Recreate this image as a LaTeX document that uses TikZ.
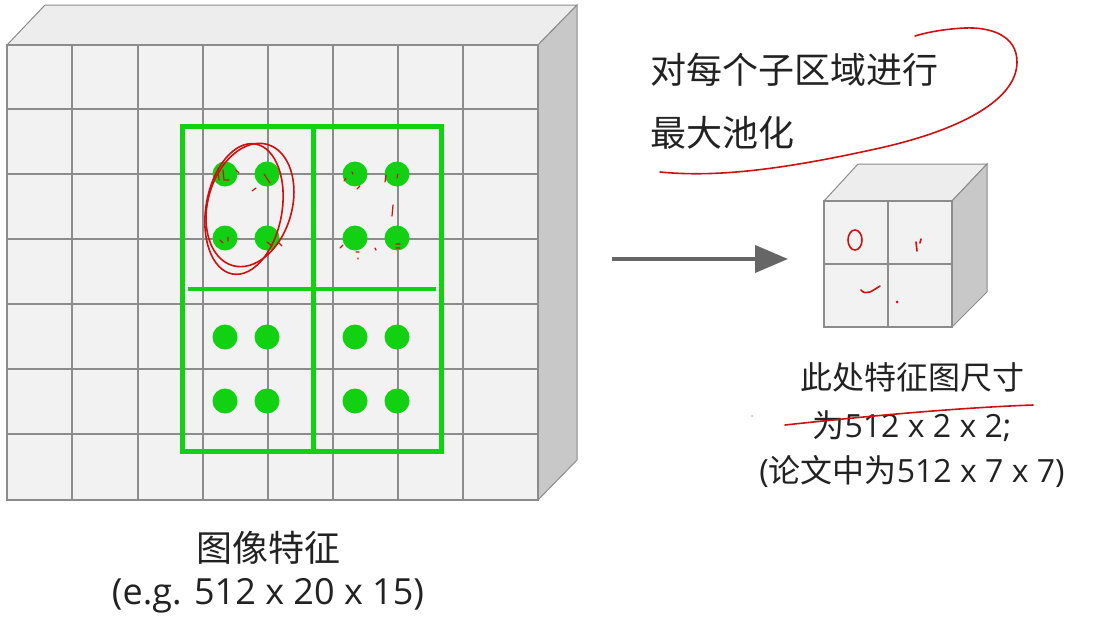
\documentclass[tikz,border=0pt]{standalone}
\usepackage{fontspec}
\setmainfont{Open Sans}
\newfontfamily\cjk{Noto Sans CJK SC}
\usetikzlibrary{arrows.meta}
\definecolor{facegray}{HTML}{F2F2F2}
\definecolor{topgray}{HTML}{EDEDED}
\definecolor{sidegray}{HTML}{C8C8C8}
\definecolor{edgegray}{HTML}{8C8C8C}
\definecolor{poolgreen}{HTML}{12D012}
\definecolor{penred}{HTML}{D01010}
\definecolor{inkgray}{HTML}{222222}
\tikzset{gridline/.style={edgegray, line width=1.2pt},
  poolbox/.style={poolgreen, line width=5pt},
  redpen/.style={penred, line width=1.6pt, line cap=round},
  label/.style={inkgray, inner sep=0pt}}

\begin{document}
\begin{tikzpicture}[x=1pt,y=-1pt]
  \useasboundingbox (0,0) rectangle (1112,621);
  % big feature map
  \filldraw[fill=topgray, draw=edgegray, line width=1pt] (7,45) -- (45,5) -- (577,5) -- (538,45) -- cycle;
  \filldraw[fill=sidegray, draw=edgegray, line width=1pt] (538,45) -- (577,5) -- (577,460) -- (538,500) -- cycle;
  \filldraw[fill=facegray, draw=edgegray, line width=1.2pt] (7,45) rectangle (538,500);
  \foreach \x in {72,138,203,268,333,398,463} \draw[gridline] (\x,45) -- (\x,500);
  \foreach \y in {109,174,239,304,369,434} \draw[gridline] (7,\y) -- (538,\y);
  \draw[poolbox] (182,126) rectangle (441,451);
  \draw[poolbox] (313,126) -- (313,451);
  \draw[poolbox, line width=4pt] (188,289) -- (436,289);
  \foreach \x in {225,267,355,397}
    \foreach \y in {174,238,337,401} \fill[poolgreen] (\x,\y) circle (12.5);
  % pen marks on the map
  \draw[redpen] (244,209) ellipse [x radius=38, y radius=66, rotate=-10];
  \draw[redpen] (250,205) ellipse [x radius=42, y radius=63, rotate=-16];
  \draw[redpen, line width=1.2pt] (218,168) -- (219,180) (223,170) -- (224,180) -- (229,180)
    (236,170) -- (239,173) (264,174) -- (270,183) (256,188) -- (252,191)
    (220,240) -- (223,243) (228,237) -- (228,241) (267,242) -- (272,246) (278,242) -- (282,246);
  \draw[redpen, line width=1.2pt] (346,178) -- (344,181) (352,172) -- (353,174) (360,186) -- (357,189)
    (386,175) -- (385,182) (398,174) -- (397,178) (393,205) -- (392,216)
    (343,245) -- (340,248) (356,252) -- (359,252) (375,248) -- (376,250) (358,258) -- (358,259)
    (396,244) -- (400,244) (396,248) -- (400,248);
  % arrow into the pooled map
  \coordinate (arrS) at (612,259);
  \coordinate (arrE) at (788,259);
  \draw[line width=4pt, gray!80!black, -{Triangle[length=33pt,width=27pt]}] (arrS) -- (arrE);
  % pooled 2x2 map
  \filldraw[fill=topgray, draw=edgegray, line width=1pt] (824,201) -- (858,164) -- (987,164) -- (952,201) -- cycle;
  \filldraw[fill=sidegray, draw=edgegray, line width=1pt] (952,201) -- (987,164) -- (987,292) -- (952,327) -- cycle;
  \filldraw[fill=facegray, draw=edgegray, line width=1.2pt] (824,201) rectangle (952,327);
  \draw[gridline] (888,201) -- (888,327);
  \draw[gridline] (824,264) -- (952,264);
  \draw[redpen] (855,240) ellipse [x radius=7, y radius=10];
  \draw[redpen] (916,242) -- (917,251) (921,239) -- (920,243);
  \draw[redpen] (861,290) .. controls (866,296) and (872,291) .. (880,286);
  \fill[penred] (897,302) circle (1.5);
  % texts
  \node[label, anchor=west, font=\cjk\fontsize{36}{40}\selectfont] (task1) at (650,70) {对每个子区域进行};
  \node[label, anchor=west, font=\cjk\fontsize{36}{40}\selectfont] (task2) at (650,133) {最大池化};
  \draw[redpen] (660,172) .. controls (720,178) and (790,168) .. (880,148)
    .. controls (960,130) and (1017,100) .. (1017,62)
    .. controls (1017,35) and (990,27) .. (965,28)
    .. controls (945,29) and (928,32) .. (915,36);
  \node[label, font=\cjk\fontsize{32}{36}\selectfont] (size1) at (912,377) {此处特征图尺寸};
  \node[label, font=\fontsize{32}{36}\selectfont] (size2) at (912,426) {{\cjk 为}512 x 2 x 2;};
  \node[label, font=\fontsize{32}{36}\selectfont] (size3) at (912,471) {({\cjk 论文中为}512 x 7 x 7)};
  \draw[redpen] (785,425) .. controls (850,418) and (950,408) .. (1033,405);
  \fill[penred!40] (752,416) circle (1);
  \node[label, font=\cjk\fontsize{36}{40}\selectfont] (fmap1) at (268,548) {图像特征};
  \node[label, font=\fontsize{36}{40}\selectfont] (fmap2) at (268,596) {(e.g. 512 x 20 x 15)};
\end{tikzpicture}
\end{document}
